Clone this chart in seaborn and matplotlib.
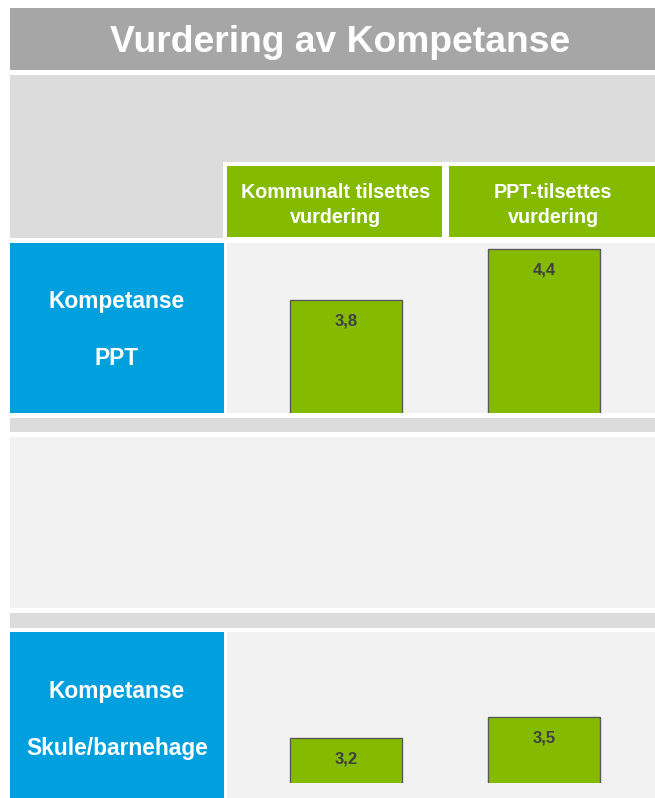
import matplotlib
matplotlib.use("Agg")
import matplotlib.pyplot as plt
from matplotlib.patches import Rectangle
import seaborn as sns
import pandas as pd

# data
title = "Vurdering av Kompetanse"
columns = ["Kommunalt tilsettes\nvurdering", "PPT-tilsettes\nvurdering"]
row_labels = ["Kompetanse\n\nPPT", "Kompetanse\n\nSkule/barnehage"]
ppt_values = [3.8, 4.4]
skule_values = [3.2, 3.5]
value_labels_ppt = ["3,8", "4,4"]
value_labels_skule = ["3,2", "3,5"]

GREY_DARK = "#a6a6a6"
GREY_MID = "#dcdcdc"
GREY_LIGHT = "#f2f2f2"
GREEN = "#84bb00"
BLUE = "#00a0df"
TEXT_DARK = "#404040"

sns.set_theme(style="white")
plt.rcParams["font.family"] = ["Liberation Sans", "DejaVu Sans"]

W, H = 655, 798
fig = plt.figure(figsize=(W / 100, H / 100), dpi=100)

# background canvas in pixel coordinates
bg = fig.add_axes([0, 0, 1, 1])
bg.set_xlim(0, W)
bg.set_ylim(H, 0)
bg.axis("off")


def box(x0, y0, x1, y1, color):
    bg.add_patch(Rectangle((x0, y0), x1 - x0, y1 - y0, color=color, lw=0))


def add_ax(x0, y0, x1, y1):
    return fig.add_axes([x0 / W, 1 - y1 / H, (x1 - x0) / W, (y1 - y0) / H])


# title band
box(10, 8, W, 70, GREY_DARK)
bg.text(340, 42, title, color="white", fontsize=26.8, fontweight="bold",
        ha="center", va="center")

# header area
box(10, 75, W, 238, GREY_MID)
box(223, 162, W, 241, "white")
header_cells = [(227, 442), (449, W)]
for (x0, x1), label in zip(header_cells, columns):
    box(x0, 166, x1, 237, GREEN)
    bg.text((x0 + x1) / 2 + 1, 205, label, color="white", fontsize=14.2,
            fontweight="bold", ha="center", va="center", linespacing=1.37)

# middle bands
box(10, 418, W, 432, GREY_MID)
box(10, 437, W, 608, GREY_LIGHT)
box(10, 613, W, 628, GREY_MID)

# row label cells + panels
rows = [(243, 413, 330), (632, H, 720)]
for (y0, y1, yc), label in zip(rows, row_labels):
    box(10, y0, 224, y1, BLUE)
    box(227, y0, W, y1, GREY_LIGHT)
    bg.text(117, yc, label, color="white", fontsize=16.4, fontweight="bold",
            ha="center", va="center", linespacing=1.31)

# bar panels
ax_specs = [
    (243, 413, ppt_values, value_labels_ppt, (2.47, 4.47)),
    (632, 783, skule_values, value_labels_skule, (2.56, 2.56 + 151 / 70)),
]
for y0, y1, vals, labs, ylim in ax_specs:
    ax = add_ax(227, y0, W, y1)
    df = pd.DataFrame({"col": ["a", "b"], "val": vals})
    sns.barplot(data=df, x="col", y="val", color=GREEN, saturation=1,
                width=0.566, edgecolor="#595959", linewidth=1, ax=ax)
    ax.set_xlim(-0.601, 1.561)
    ax.set_ylim(*ylim)
    ax.patch.set_alpha(0)
    ax.axis("off")
    for i, (v, lab) in enumerate(zip(vals, labs)):
        ax.annotate(lab, (i, v), xytext=(0, -15), textcoords="offset points",
                    ha="center", va="center", fontsize=12, fontweight="bold",
                    color=TEXT_DARK)

fig.savefig("out.png", dpi=100)
